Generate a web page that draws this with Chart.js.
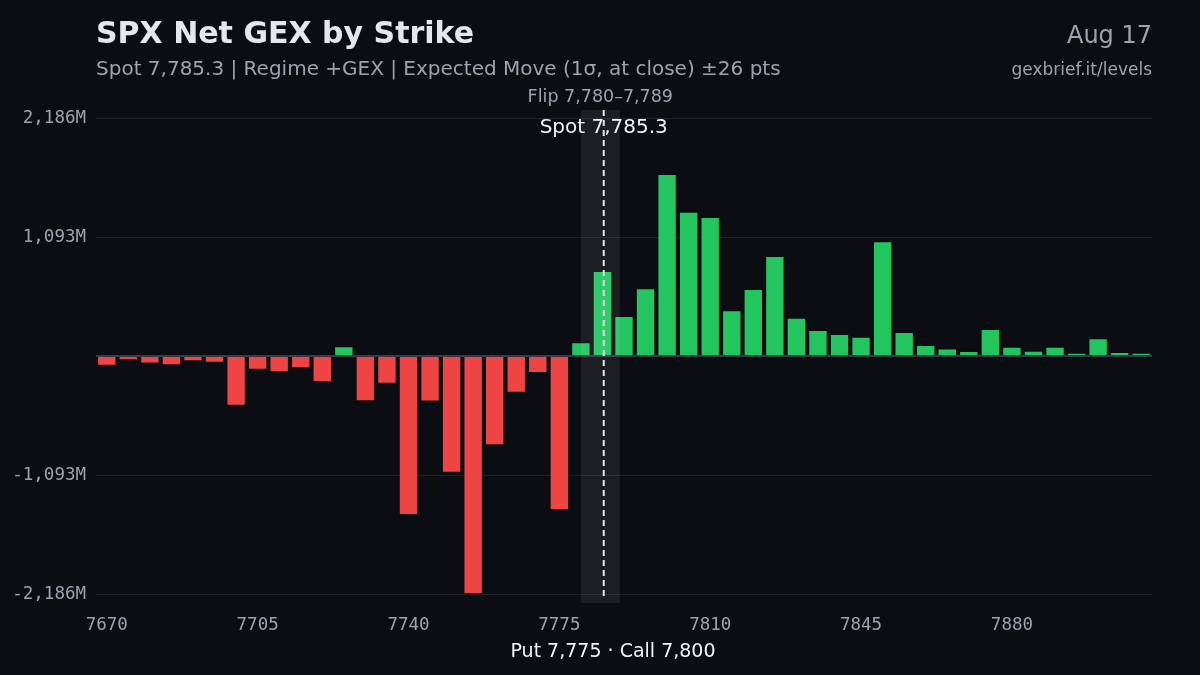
<!DOCTYPE html>
<html lang="en">
<head>
<meta charset="UTF-8">
<title>SPX Net GEX by Strike</title>
<script src="https://cdn.jsdelivr.net/npm/chart.js"></script>
<style>
  html, body { margin: 0; padding: 0; background: #0b0d12; }
  #box { width: 1200px; height: 675px; }
</style>
</head>
<body>
<div id="box"><canvas id="grafico" width="1200" height="675"></canvas></div>
<script>
// strikes and net GEX (millions)
const strikes = [7670, 7675, 7680, 7685, 7690, 7695, 7700, 7705, 7710, 7715,
  7720, 7725, 7730, 7735, 7740, 7745, 7750, 7755, 7760, 7765,
  7770, 7775, 7780, 7785, 7790, 7795, 7800, 7805, 7810, 7815,
  7820, 7825, 7830, 7835, 7840, 7845, 7850, 7855, 7860, 7865,
  7870, 7875, 7880, 7885, 7890, 7895, 7900, 7905, 7910]
const netGex = [-89, -40, -70, -86, -49, -61, -456, -126, -150, -110,
  -239, 89, -416, -254, -1460, -419, -1072, -2186, -820, -337,
  -156, -1414, 126, 781, 367, 622, 1672, 1325, 1277, 420,
  615, 918, 352, 239, 202, 177, 1053, 220, 101, 70,
  46, 248, 85, 49, 85, 30, 162, 37, 30]
const yTicks = [-2186, -1093, 0, 1093, 2186]
const spot = 7785.3
const flipLow = 7780
const flipHigh = 7789

const fmt = v => v.toLocaleString('en-US')
const idxOf = s => (s - strikes[0]) / (strikes[1] - strikes[0])

const overlay = {
  id: 'overlay',
  afterDatasetsDraw(chart) {
    const c = chart.ctx
    const x = chart.scales.x
    const x1 = x.getPixelForValue(idxOf(flipLow))
    const x2 = x.getPixelForValue(idxOf(flipHigh))
    const xs = x.getPixelForValue(idxOf(spot))
    c.save()
    c.fillStyle = 'rgba(255,255,255,0.07)'
    c.fillRect(x1, 110, x2 - x1, 493)
    c.strokeStyle = '#e5e7eb'
    c.lineWidth = 2
    c.setLineDash([6, 4])
    c.beginPath()
    c.moveTo(xs, 110)
    c.lineTo(xs, 600)
    c.stroke()
    c.setLineDash([])
    c.textAlign = 'center'
    c.textBaseline = 'middle'
    c.fillStyle = '#9ca3af'
    c.font = '17.5px "DejaVu Sans"'
    c.fillText('Flip ' + fmt(flipLow) + '–' + fmt(flipHigh), (x1 + x2) / 2, 97)
    c.fillStyle = '#f3f4f6'
    c.font = '20px "DejaVu Sans"'
    c.fillText('Spot ' + spot.toLocaleString('en-US', {minimumFractionDigits: 1}), xs, 128)
    c.restore()
  },
  afterDraw(chart) {
    const c = chart.ctx
    c.save()
    c.textBaseline = 'middle'
    c.textAlign = 'left'
    c.fillStyle = '#e5e7eb'
    c.font = 'bold 30px "DejaVu Sans"'
    c.fillText('SPX Net GEX by Strike', 96, 35)
    c.fillStyle = '#9ca3af'
    c.font = '20px "DejaVu Sans"'
    c.fillText('Spot 7,785.3 | Regime +GEX | Expected Move (1σ, at close) ±26 pts', 96, 70)
    c.textAlign = 'right'
    c.font = '24px "DejaVu Sans"'
    c.fillText('Aug 17', 1152, 37)
    c.font = '17px "DejaVu Sans"'
    c.fillText('gexbrief.it/levels', 1152, 71)
    c.textAlign = 'center'
    c.fillStyle = '#f3f4f6'
    c.font = '19px "DejaVu Sans"'
    c.fillText('Put 7,775 · Call 7,800', 613, 652)
    c.restore()
  }
}

new Chart(document.getElementById('grafico'), {
  type: 'bar',
  data: {
    labels: strikes.map(String),
    datasets: [{
      data: netGex,
      backgroundColor: netGex.map(v => v < 0 ? '#ef4444' : '#22c55e'),
      borderColor: 'rgba(11,13,18,0.35)',
      borderWidth: 1,
      barPercentage: 0.9,
      categoryPercentage: 1
    }]
  },
  options: {
    responsive: false,
    animation: false,
    devicePixelRatio: 1,
    layout: { padding: { left: 0, top: 118, right: 48, bottom: 36 } },
    plugins: { legend: { display: false }, tooltip: { enabled: false } },
    scales: {
      x: {
        grid: { display: false, drawTicks: false },
        border: { display: false },
        afterFit: s => { s.height = 45 },
        ticks: {
          autoSkip: false,
          maxRotation: 0,
          padding: 21,
          color: '#9ca3af',
          font: { family: 'DejaVu Sans Mono', size: 17.5 },
          callback: (v, i) => i % 7 === 0 ? strikes[i] : ''
        }
      },
      y: {
        min: yTicks[0],
        max: yTicks[yTicks.length - 1],
        afterFit: s => { s.width = 96 },
        afterBuildTicks: s => { s.ticks = yTicks.map(v => ({ value: v })) },
        border: { display: false },
        grid: {
          drawTicks: false,
          color: ctx => ctx.tick && ctx.tick.value === 0 ? '#353b47' : '#1d222b',
          lineWidth: ctx => ctx.tick && ctx.tick.value === 0 ? 2 : 1
        },
        ticks: {
          padding: 10,
          color: '#9ca3af',
          font: { family: 'DejaVu Sans Mono', size: 17.5 },
          callback: v => v === 0 ? '' : fmt(v) + 'M'
        }
      }
    }
  },
  plugins: [overlay]
})
</script>
</body>
</html>
